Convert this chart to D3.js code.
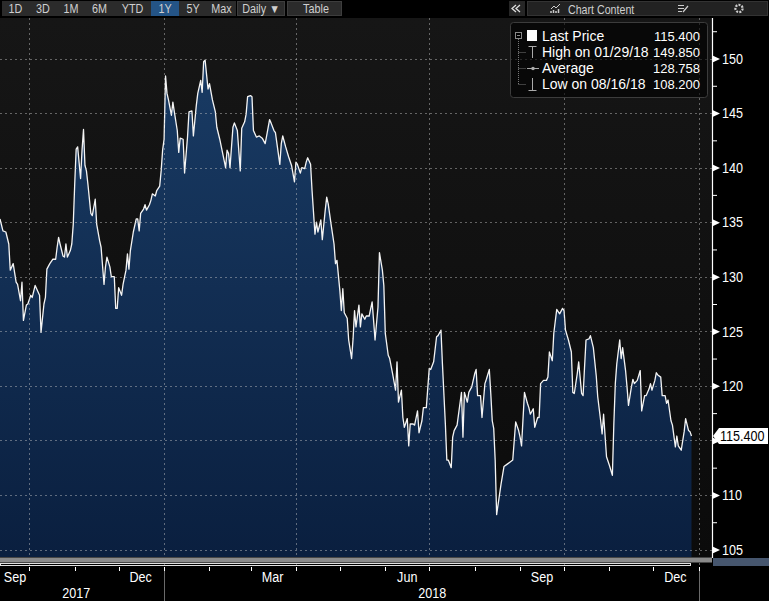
<!DOCTYPE html>
<html><head><meta charset="utf-8">
<script src="https://cdn.jsdelivr.net/npm/d3@7"></script>
<style>
html,body{margin:0;padding:0;background:#000;overflow:hidden;}
svg{display:block;}
</style></head><body>
<svg id="c" width="769" height="601"></svg>
<script>
// ---------------- data ----------------
const dates = [
"09/11/17","09/13/17","09/15/17","09/17/17","09/18/17","09/20/17","09/22/17","09/23/17","09/25/17","09/26/17",
"09/27/17","09/29/17","09/30/17","10/02/17","10/03/17","10/05/17","10/06/17","10/08/17","10/09/17","10/11/17",
"10/12/17","10/13/17","10/15/17","10/17/17","10/19/17","10/20/17","10/21/17","10/22/17","10/24/17","10/25/17",
"10/26/17","10/27/17","10/29/17","10/30/17","10/31/17","11/01/17","11/02/17","11/03/17","11/05/17","11/06/17",
"11/07/17","11/08/17","11/09/17","11/10/17","11/12/17","11/13/17","11/15/17","11/16/17","11/18/17","11/19/17",
"11/21/17","11/22/17","11/23/17","11/25/17","11/26/17","11/28/17","11/29/17","11/30/17","12/01/17","12/03/17",
"12/04/17","12/06/17","12/07/17","12/08/17","12/09/17","12/11/17","12/13/17","12/14/17","12/15/17","12/16/17",
"12/18/17","12/19/17","12/20/17","12/22/17","12/23/17","12/24/17","12/26/17","12/27/17","12/29/17","12/30/17",
"12/31/17","01/01/18","01/02/18","01/03/18","01/04/18","01/06/18","01/07/18","01/08/18","01/10/18","01/11/18",
"01/12/18","01/14/18","01/15/18","01/17/18","01/18/18","01/20/18","01/21/18","01/23/18","01/24/18","01/26/18",
"01/27/18","01/28/18","01/29/18","01/31/18","02/01/18","02/03/18","02/05/18","02/06/18","02/08/18","02/10/18",
"02/12/18","02/13/18","02/14/18","02/15/18","02/17/18","02/18/18","02/20/18","02/22/18","02/23/18","02/25/18",
"02/26/18","02/27/18","03/01/18","03/02/18","03/03/18","03/05/18","03/07/18","03/09/18","03/11/18","03/12/18",
"03/14/18","03/15/18","03/17/18","03/18/18","03/21/18","03/22/18","03/23/18","03/25/18","03/27/18","03/29/18",
"03/31/18","04/01/18","04/02/18","04/04/18","04/05/18","04/07/18","04/08/18","04/09/18","04/11/18","04/12/18",
"04/14/18","04/15/18","04/16/18","04/18/18","04/19/18","04/21/18","04/22/18","04/23/18","04/25/18","04/27/18",
"04/28/18","04/29/18","05/01/18","05/02/18","05/03/18","05/04/18","05/06/18","05/07/18","05/09/18","05/10/18",
"05/11/18","05/12/18","05/14/18","05/15/18","05/16/18","05/18/18","05/19/18","05/21/18","05/23/18","05/24/18",
"05/25/18","05/27/18","05/28/18","05/30/18","05/31/18","06/01/18","06/03/18","06/04/18","06/06/18","06/08/18",
"06/09/18","06/10/18","06/12/18","06/13/18","06/14/18","06/16/18","06/17/18","06/18/18","06/20/18","06/21/18",
"06/23/18","06/24/18","06/26/18","06/27/18","06/29/18","07/01/18","07/02/18","07/04/18","07/06/18","07/07/18",
"07/09/18","07/10/18","07/12/18","07/13/18","07/14/18","07/16/18","07/17/18","07/18/18","07/20/18","07/21/18",
"07/23/18","07/24/18","07/25/18","07/27/18","07/28/18","07/30/18","08/01/18","08/02/18","08/03/18","08/05/18",
"08/06/18","08/08/18","08/09/18","08/11/18","08/12/18","08/13/18","08/14/18","08/15/18","08/16/18","08/19/18",
"08/21/18","08/23/18","08/25/18","08/27/18","08/29/18","08/31/18","09/01/18","09/02/18","09/04/18","09/06/18",
"09/07/18","09/08/18","09/10/18","09/11/18","09/13/18","09/14/18","09/15/18","09/17/18","09/19/18","09/20/18",
"09/21/18","09/23/18","09/24/18","09/26/18","09/27/18","09/28/18","09/30/18","10/01/18","10/02/18","10/04/18",
"10/06/18","10/07/18","10/08/18","10/10/18","10/11/18","10/13/18","10/14/18","10/15/18","10/16/18","10/18/18",
"10/19/18","10/21/18","10/23/18","10/24/18","10/26/18","10/27/18","10/28/18","10/30/18","11/01/18","11/03/18",
"11/04/18","11/05/18","11/06/18","11/08/18","11/09/18","11/10/18","11/12/18","11/13/18","11/14/18","11/16/18",
"11/17/18","11/18/18","11/20/18","11/22/18","11/23/18","11/25/18","11/26/18","11/28/18","11/29/18","11/30/18",
"12/02/18","12/03/18","12/04/18","12/06/18","12/07/18","12/09/18","12/10/18","12/11/18","12/13/18","12/14/18",
"12/16/18","12/17/18","12/18/18","12/20/18","12/22/18","12/23/18","12/25/18","12/26/18","12/27/18"
];
const prices = [
135.3,134.2,134.1,133.0,130.6,131.2,129.5,129.3,127.8,129.5,
126.0,127.4,127.5,128.3,128.1,129.2,128.9,128.3,124.9,127.5,
128.1,130.7,131.2,131.6,131.6,132.7,133.6,133.0,131.9,131.8,
133.0,131.8,132.4,133.0,134.8,138.5,141.7,141.9,139.0,141.6,
143.5,140.2,139.7,138.5,135.8,135.6,137.1,134.8,133.3,132.7,
129.3,130.9,131.8,130.9,130.0,130.0,127.1,127.1,129.0,128.3,
129.3,130.6,132.1,130.7,132.4,134.1,135.3,135.3,134.2,135.8,
136.2,136.6,136.1,136.6,137.0,137.6,137.4,137.9,138.3,139.7,
141.6,142.6,148.4,146.8,146.2,144.8,146.0,145.1,143.4,141.4,
142.7,142.6,139.5,142.8,145.1,145.2,142.9,145.7,146.8,148.0,
146.9,149.7,149.85,147.2,147.7,146.2,145.1,143.7,142.6,141.3,
140.0,141.6,141.3,140.0,143.7,144.1,143.4,139.7,143.6,144.2,
144.9,146.5,146.6,146.5,143.4,142.8,142.9,142.7,142.2,142.9,
144.4,144.1,143.4,143.2,140.3,142.2,142.9,141.9,141.0,140.2,
138.7,140.5,140.3,139.5,140.0,139.9,140.5,140.9,140.3,137.9,
133.9,135.0,134.1,135.2,133.4,136.1,137.3,136.7,134.8,133.0,
131.2,131.5,128.7,126.9,128.9,126.7,126.2,124.2,122.5,124.3,
126.9,125.4,127.4,125.4,126.6,126.1,126.4,126.4,127.7,126.0,
124.2,127.2,132.2,130.6,129.2,124.8,122.8,122.5,121.1,119.6,
122.2,118.5,119.6,117.1,116.2,117.0,114.5,116.5,116.5,116.4,
117.7,115.7,116.8,118.0,118.0,121.6,121.5,122.2,124.5,124.6,
125.1,122.0,116.5,113.2,113.2,112.5,115.3,115.9,116.4,117.4,
119.4,115.3,119.4,118.5,119.4,119.9,121.1,121.5,119.1,119.1,
117.1,120.2,120.6,121.5,119.3,116.8,116.1,113.2,108.2,111.0,
112.6,112.8,113.0,113.2,116.7,115.9,115.3,114.5,119.4,118.4,
118.0,117.4,117.9,116.2,117.1,117.1,120.2,120.5,120.5,120.8,
123.1,122.3,124.8,127.0,126.8,126.6,127.1,126.9,125.1,124.2,
123.1,119.4,119.3,121.1,122.2,119.3,119.1,121.7,124.2,124.3,
124.6,123.5,120.9,119.0,116.8,115.6,117.4,113.5,112.7,111.8,
116.5,120.2,122.0,124.2,122.5,123.5,121.4,119.9,118.2,119.9,
120.6,120.2,120.5,121.4,117.7,119.1,119.1,119.7,120.2,119.6,
120.5,121.2,121.0,120.8,119.1,119.1,118.4,118.7,116.8,116.4,
114.4,115.4,114.5,114.1,115.8,117.0,115.9,115.8,115.4
];
const yTicks = [105,110,115,120,125,130,135,140,145,150];
const yMinorTicks = [107.5,112.5,117.5,122.5,127.5,132.5,137.5,142.5,147.5,152.5];
const monthLabels = ["Sep","Dec","Mar","Jun","Sep","Dec"];
const monthLabelDates = ["09/16/17","12/16/17","03/16/18","06/16/18","09/16/18","12/16/18"];
const yearLabels = ["2017","2018"];
const yearLabelDates = ["11/02/17","07/03/18"];
const legendLabels = ["Last Price","High on 01/29/18","Average","Low on 08/16/18"];
const legendValues = ["115.400","149.850","128.758","108.200"];
const lastPrice = 115.4;
const rangeButtons = ["1D","3D","1M","6M","YTD","1Y","5Y","Max"];
const activeRange = "1Y";
const domainDates = ["09/11/17","01/10/19"];

// ---------------- layout ----------------
const W = 769, H = 601;
const plotL = 0, plotR = 712, plotT = 18, plotB = 557;
const baseFont = "'Liberation Sans',Arial,sans-serif";
const K = 0.84; // horizontal squeeze to mimic a condensed face

function narrow(sel, xPos, k) {
  sel.attr("transform", `scale(${k},1)`).attr("x", xPos / k);
  return sel;
}

const parse = d3.timeParse("%m/%d/%y");
const series = dates.map((d, i) => ({date: parse(d), price: prices[i]}));

const svg = d3.select("#c");
const defs = svg.append("defs");

const bgGrad = defs.append("linearGradient").attr("id","bg").attr("x1",0).attr("y1",0).attr("x2",0).attr("y2",1);
bgGrad.append("stop").attr("offset","0%").attr("stop-color","#161616");
bgGrad.append("stop").attr("offset","100%").attr("stop-color","#0b0b0b");

const fillGrad = defs.append("linearGradient").attr("id","fillg").attr("gradientUnits","userSpaceOnUse")
  .attr("x1",0).attr("y1",58).attr("x2",0).attr("y2",plotB);
fillGrad.append("stop").attr("offset","0%").attr("stop-color","#193b64");
fillGrad.append("stop").attr("offset","100%").attr("stop-color","#0a1f3f");

defs.append("clipPath").attr("id","plotclip").append("rect")
  .attr("x",plotL).attr("y",plotT).attr("width",plotR-plotL).attr("height",plotB-plotT);

svg.append("rect").attr("width",W).attr("height",H).attr("fill","#000");
svg.append("rect").attr("x",plotL).attr("y",plotT).attr("width",plotR-plotL).attr("height",plotB-plotT).attr("fill","url(#bg)");

const x = d3.scaleTime().domain(domainDates.map(parse)).range([plotL, plotR]);
const y = d3.scaleLinear().domain([105,150]).range([549.5,58.5]);

const plot = svg.append("g").attr("clip-path","url(#plotclip)");

const area = d3.area().x(d => x(d.date)).y0(plotB).y1(d => y(d.price));
plot.append("path").datum(series).attr("d",area).attr("fill","url(#fillg)");

const quarterTicks = x.ticks(d3.timeMonth.every(3));
const gridColor = "rgba(200,200,200,0.45)";
svg.append("g").selectAll("line").data(yTicks).join("line")
  .attr("x1",plotL).attr("x2",plotR)
  .attr("y1",d => Math.round(y(d))+0.5).attr("y2",d => Math.round(y(d))+0.5)
  .attr("stroke",gridColor).attr("stroke-width",1).attr("stroke-dasharray","2,3");
svg.append("g").selectAll("line").data(quarterTicks).join("line")
  .attr("x1",d => Math.round(x(d))+0.5).attr("x2",d => Math.round(x(d))+0.5)
  .attr("y1",plotT).attr("y2",571)
  .attr("stroke",gridColor).attr("stroke-width",1).attr("stroke-dasharray","2,3");

const line = d3.line().x(d => x(d.date)).y(d => y(d.price));
plot.append("path").datum(series).attr("d",line).attr("fill","none")
  .attr("stroke","#f4f4f4").attr("stroke-width",1.3).attr("stroke-linejoin","round");

// ---------------- y axis ----------------
svg.append("line").attr("x1",plotR+0.5).attr("x2",plotR+0.5).attr("y1",plotT).attr("y2",plotB+1)
  .attr("stroke","#fff").attr("stroke-width",1.2);
// the tick label hidden under the last-price tag is left blank
const yAxis = svg.append("g").attr("transform",`translate(${plotR},0)`)
  .call(d3.axisRight(y).tickValues(yTicks).tickSize(0).tickPadding(10)
    .tickFormat(d => Math.abs(d - lastPrice) < 2 ? "" : d3.format("d")(d)));
yAxis.select(".domain").remove();
yAxis.selectAll("text").attr("fill","#fff").attr("font-size",15).attr("font-family",baseFont)
  .each(function(){ narrow(d3.select(this), 10, K); });
yAxis.selectAll(".tick").append("path").attr("d","M0.5,-3.5L8,0L0.5,3.5Z").attr("fill","#fff");
const yMinor = svg.append("g").attr("transform",`translate(${plotR},0)`)
  .call(d3.axisRight(y).tickValues(yMinorTicks).tickSize(5).tickFormat(""));
yMinor.select(".domain").remove();
yMinor.selectAll("line").attr("stroke","#fff");

const ly = y(lastPrice);
svg.append("path")
  .attr("d",`M${plotR+1},${ly} L${plotR+7},${ly-8} L768,${ly-8} L768,${ly+8} L${plotR+7},${ly+8} Z`)
  .attr("fill","#fff");
narrow(svg.append("text").attr("y",ly).attr("dy","0.35em")
  .attr("font-family",baseFont).attr("font-size",15).attr("fill","#000").text(lastPrice.toFixed(3)), plotR+8, K);

// ---------------- x axis ----------------
svg.append("rect").attr("x",0).attr("y",plotB+0.5).attr("width",plotR).attr("height",5).attr("fill","#8a8a8a");
svg.append("rect").attr("x",0.5).attr("y",563.5).attr("width",690).attr("height",2).attr("fill","none").attr("stroke","#e0e0e0").attr("stroke-width",1);
svg.append("rect").attr("x",plotR+1).attr("y",558).attr("width",W-plotR-1).attr("height",8).attr("fill","#46566e");

const monthTicks = x.ticks(d3.timeMonth.every(1));
svg.append("g").selectAll("line").data(monthTicks).join("line")
  .attr("x1",d => Math.round(x(d))+0.5).attr("x2",d => Math.round(x(d))+0.5)
  .attr("y1",567).attr("y2",571).attr("stroke","#fff").attr("stroke-width",1);

const yearTicks = x.ticks(d3.timeYear.every(1));
svg.append("g").selectAll("line").data(yearTicks).join("line")
  .attr("x1",d => Math.round(x(d))+0.5).attr("x2",d => Math.round(x(d))+0.5)
  .attr("y1",571).attr("y2",601).attr("stroke","#6a6a6a").attr("stroke-width",1);

svg.append("g").selectAll("text").data(monthLabels).join("text")
  .attr("y",582).attr("text-anchor","middle")
  .attr("font-family",baseFont).attr("font-size",15).attr("fill","#fff").text(d => d)
  .each(function(d,i){ narrow(d3.select(this), Math.max(15, x(parse(monthLabelDates[i]))), K); });
svg.append("g").selectAll("text").data(yearLabels).join("text")
  .attr("y",598).attr("text-anchor","middle")
  .attr("font-family",baseFont).attr("font-size",15).attr("fill","#fff").text(d => d)
  .each(function(d,i){ narrow(d3.select(this), x(parse(yearLabelDates[i])), K); });

// ---------------- legend ----------------
const lg = svg.append("g");
lg.append("rect").attr("x",510.5).attr("y",22.5).attr("width",197).attr("height",75).attr("rx",3)
  .attr("fill","rgba(0,0,0,0.6)").attr("stroke","#3c3c3c");
const rowY = [36,52,68,84];
lg.append("line").attr("x1",518.5).attr("x2",518.5).attr("y1",39).attr("y2",84)
  .attr("stroke","#777").attr("stroke-dasharray","1,1");
rowY.slice(1).forEach(ry => lg.append("line").attr("x1",518.5).attr("x2",526).attr("y1",ry+0.5).attr("y2",ry+0.5)
  .attr("stroke","#777").attr("stroke-dasharray","1,1"));
lg.append("rect").attr("x",515.5).attr("y",32.5).attr("width",6).attr("height",6).attr("fill","#000").attr("stroke","#888");
lg.append("line").attr("x1",517).attr("x2",520).attr("y1",35.5).attr("y2",35.5).attr("stroke","#888");
lg.append("rect").attr("x",527).attr("y",30).attr("width",10).attr("height",11).attr("fill","#fff");
lg.append("path").attr("d","M528.5,46.5H536.5M532.5,46.5V58").attr("stroke","#aaa").attr("fill","none");
lg.append("path").attr("d","M527,68.5H539").attr("stroke","#aaa").attr("fill","none");
lg.append("circle").attr("cx",533).attr("cy",68.5).attr("r",1.8).attr("fill","#aaa");
lg.append("path").attr("d","M532.5,78V90.5M528.5,90.5H536.5").attr("stroke","#aaa").attr("fill","none");
lg.selectAll("text.lab").data(legendLabels).join("text").attr("class","lab")
  .attr("x",542).attr("y",(d,i) => rowY[i]).attr("dy","0.35em")
  .attr("font-family",baseFont).attr("font-size",14).attr("fill","#fff").text(d => d);
lg.selectAll("text.val").data(legendValues).join("text").attr("class","val")
  .attr("x",700).attr("y",(d,i) => rowY[i]).attr("dy","0.35em").attr("text-anchor","end")
  .attr("font-family",baseFont).attr("font-size",13).attr("fill","#fff").text(d => d);

// ---------------- toolbar ----------------
const tb = svg.append("g");
const btnX = [2,29,57,85,114,151,179,207];
const btnW = [27,28,28,29,37,28,28,29];
tb.append("rect").attr("x",2).attr("y",1).attr("width",234).attr("height",15).attr("fill","#2b2b2b");
rangeButtons.forEach((b,i) => {
  if (b === activeRange) tb.append("rect").attr("x",btnX[i]).attr("y",1).attr("width",btnW[i]).attr("height",15).attr("fill","#245486");
  narrow(tb.append("text").attr("y",9).attr("dy","0.35em").attr("text-anchor","middle")
    .attr("font-family",baseFont).attr("font-size",12).attr("fill","#cfcfcf").text(b), btnX[i]+btnW[i]/2, 0.9);
});
tb.append("rect").attr("x",237.5).attr("y",1.5).attr("width",47).attr("height",14).attr("fill","#2b2b2b").attr("stroke","#3d3d3d");
narrow(tb.append("text").attr("y",9).attr("dy","0.35em").attr("text-anchor","middle")
  .attr("font-family",baseFont).attr("font-size",12).attr("fill","#cfcfcf").text("Daily \u25BC"), 261, 0.9);
tb.append("rect").attr("x",287.5).attr("y",1.5).attr("width",54).attr("height",14).attr("fill","#2b2b2b").attr("stroke","#3d3d3d");
narrow(tb.append("text").attr("y",9).attr("dy","0.35em").attr("text-anchor","middle")
  .attr("font-family",baseFont).attr("font-size",12).attr("fill","#cfcfcf").text("Table"), 316, 0.9);
tb.append("rect").attr("x",509).attr("y",1).attr("width",16).attr("height",15).attr("fill","#262626");
tb.append("path").attr("d","M516,5L512,8.5L516,12M520,5L516,8.5L520,12").attr("stroke","#ddd").attr("stroke-width",1.3).attr("fill","none");
tb.append("rect").attr("x",527.5).attr("y",1.5).attr("width",240).attr("height",14).attr("fill","#222").attr("stroke","#333");
tb.append("path").attr("d","M551,9L554,6L556,8L560,4").attr("stroke","#ccc").attr("fill","none");
tb.append("path").attr("d","M551,13V11M553.5,13V10M556,13V11M558.5,13V9").attr("stroke","#ccc").attr("stroke-width",1.5).attr("fill","none");
narrow(tb.append("text").attr("y",9).attr("dy","0.35em")
  .attr("font-family",baseFont).attr("font-size",13).attr("fill","#cfcfcf").text("Chart Content"), 568, 0.82);
tb.append("path").attr("d","M678,5.5H684M678,8.5H684M678,11.5H682M683,12L688,6").attr("stroke","#ccc").attr("stroke-width",1.2).attr("fill","none");
tb.append("circle").attr("cx",739).attr("cy",8.5).attr("r",3.6).attr("fill","none").attr("stroke","#ccc").attr("stroke-width",2.2).attr("stroke-dasharray","2,1.2");
tb.append("circle").attr("cx",739).attr("cy",8.5).attr("r",1.3).attr("fill","#222");
</script>
</body></html>
